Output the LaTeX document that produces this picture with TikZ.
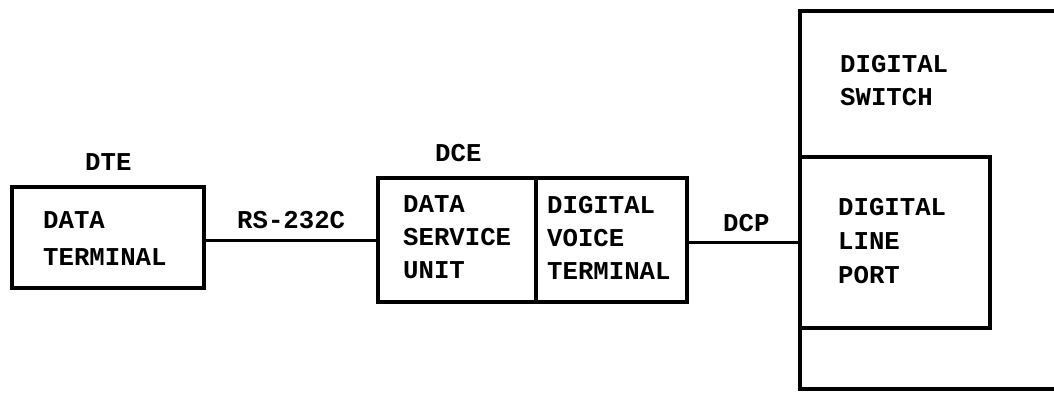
\documentclass[tikz,border=0pt]{standalone}
\usepackage{fontspec}
\newfontfamily\plotfont{Liberation Mono}
\begin{document}
\begin{tikzpicture}[x=1pt,y=-1pt,
  box/.style={draw,line width=3.6pt,rectangle,inner sep=0pt,outer sep=0pt},
  lbl/.style={inner sep=0pt,anchor=west,align=left,font=\plotfont\bfseries\fontsize{25.7}{33}\selectfont},
  wire/.style={line width=3pt}]
\useasboundingbox (0,0) rectangle (1054,392);
% boxes
\node[box,minimum width=192pt,minimum height=101pt] (dt) at (108,237.5) {};
\node[box,minimum width=158pt,minimum height=124pt] (dsu) at (457,240) {};
\node[box,minimum width=151pt,minimum height=124pt] (dvt) at (611.5,240) {};
\node[box,minimum width=190pt,minimum height=171pt] (dlp) at (895,242.5) {};
\coordinate (swtr) at (1060,11);
\coordinate (swtl) at (800,11);
\coordinate (swbl) at (800,389);
\coordinate (swbr) at (1060,389);
\draw[line width=3.6pt] (swtr) -- (swtl) -- (swbl) -- (swbr);
% connectors
\draw[wire] (dt.east |- 0,240) -- (dsu.west |- 0,240);
\draw[wire] (dvt.east |- 0,242) -- (swtl |- 0,242);
% labels
\node[lbl] (dte) at (85,162) {DTE};
\node[lbl] (dce) at (435,153) {DCE};
\node[lbl] (rs) at (237,220) {RS-232C};
\node[lbl] (dcp) at (723,223) {DCP};
\node[lbl,font=\plotfont\bfseries\fontsize{25.7}{37}\selectfont] (tdt) at (43,238.5) {DATA\\TERMINAL};
\node[lbl] (tdsu) at (403,237.5) {DATA\\SERVICE\\UNIT};
\node[lbl] (tdvt) at (547,237.5) {DIGITAL\\VOICE\\TERMINAL};
\node[lbl] (tsw) at (840,80.5) {DIGITAL\\SWITCH};
\node[lbl,font=\plotfont\bfseries\fontsize{25.7}{34}\selectfont] (tdlp) at (838,241) {DIGITAL\\LINE\\PORT};
\end{tikzpicture}
\end{document}
